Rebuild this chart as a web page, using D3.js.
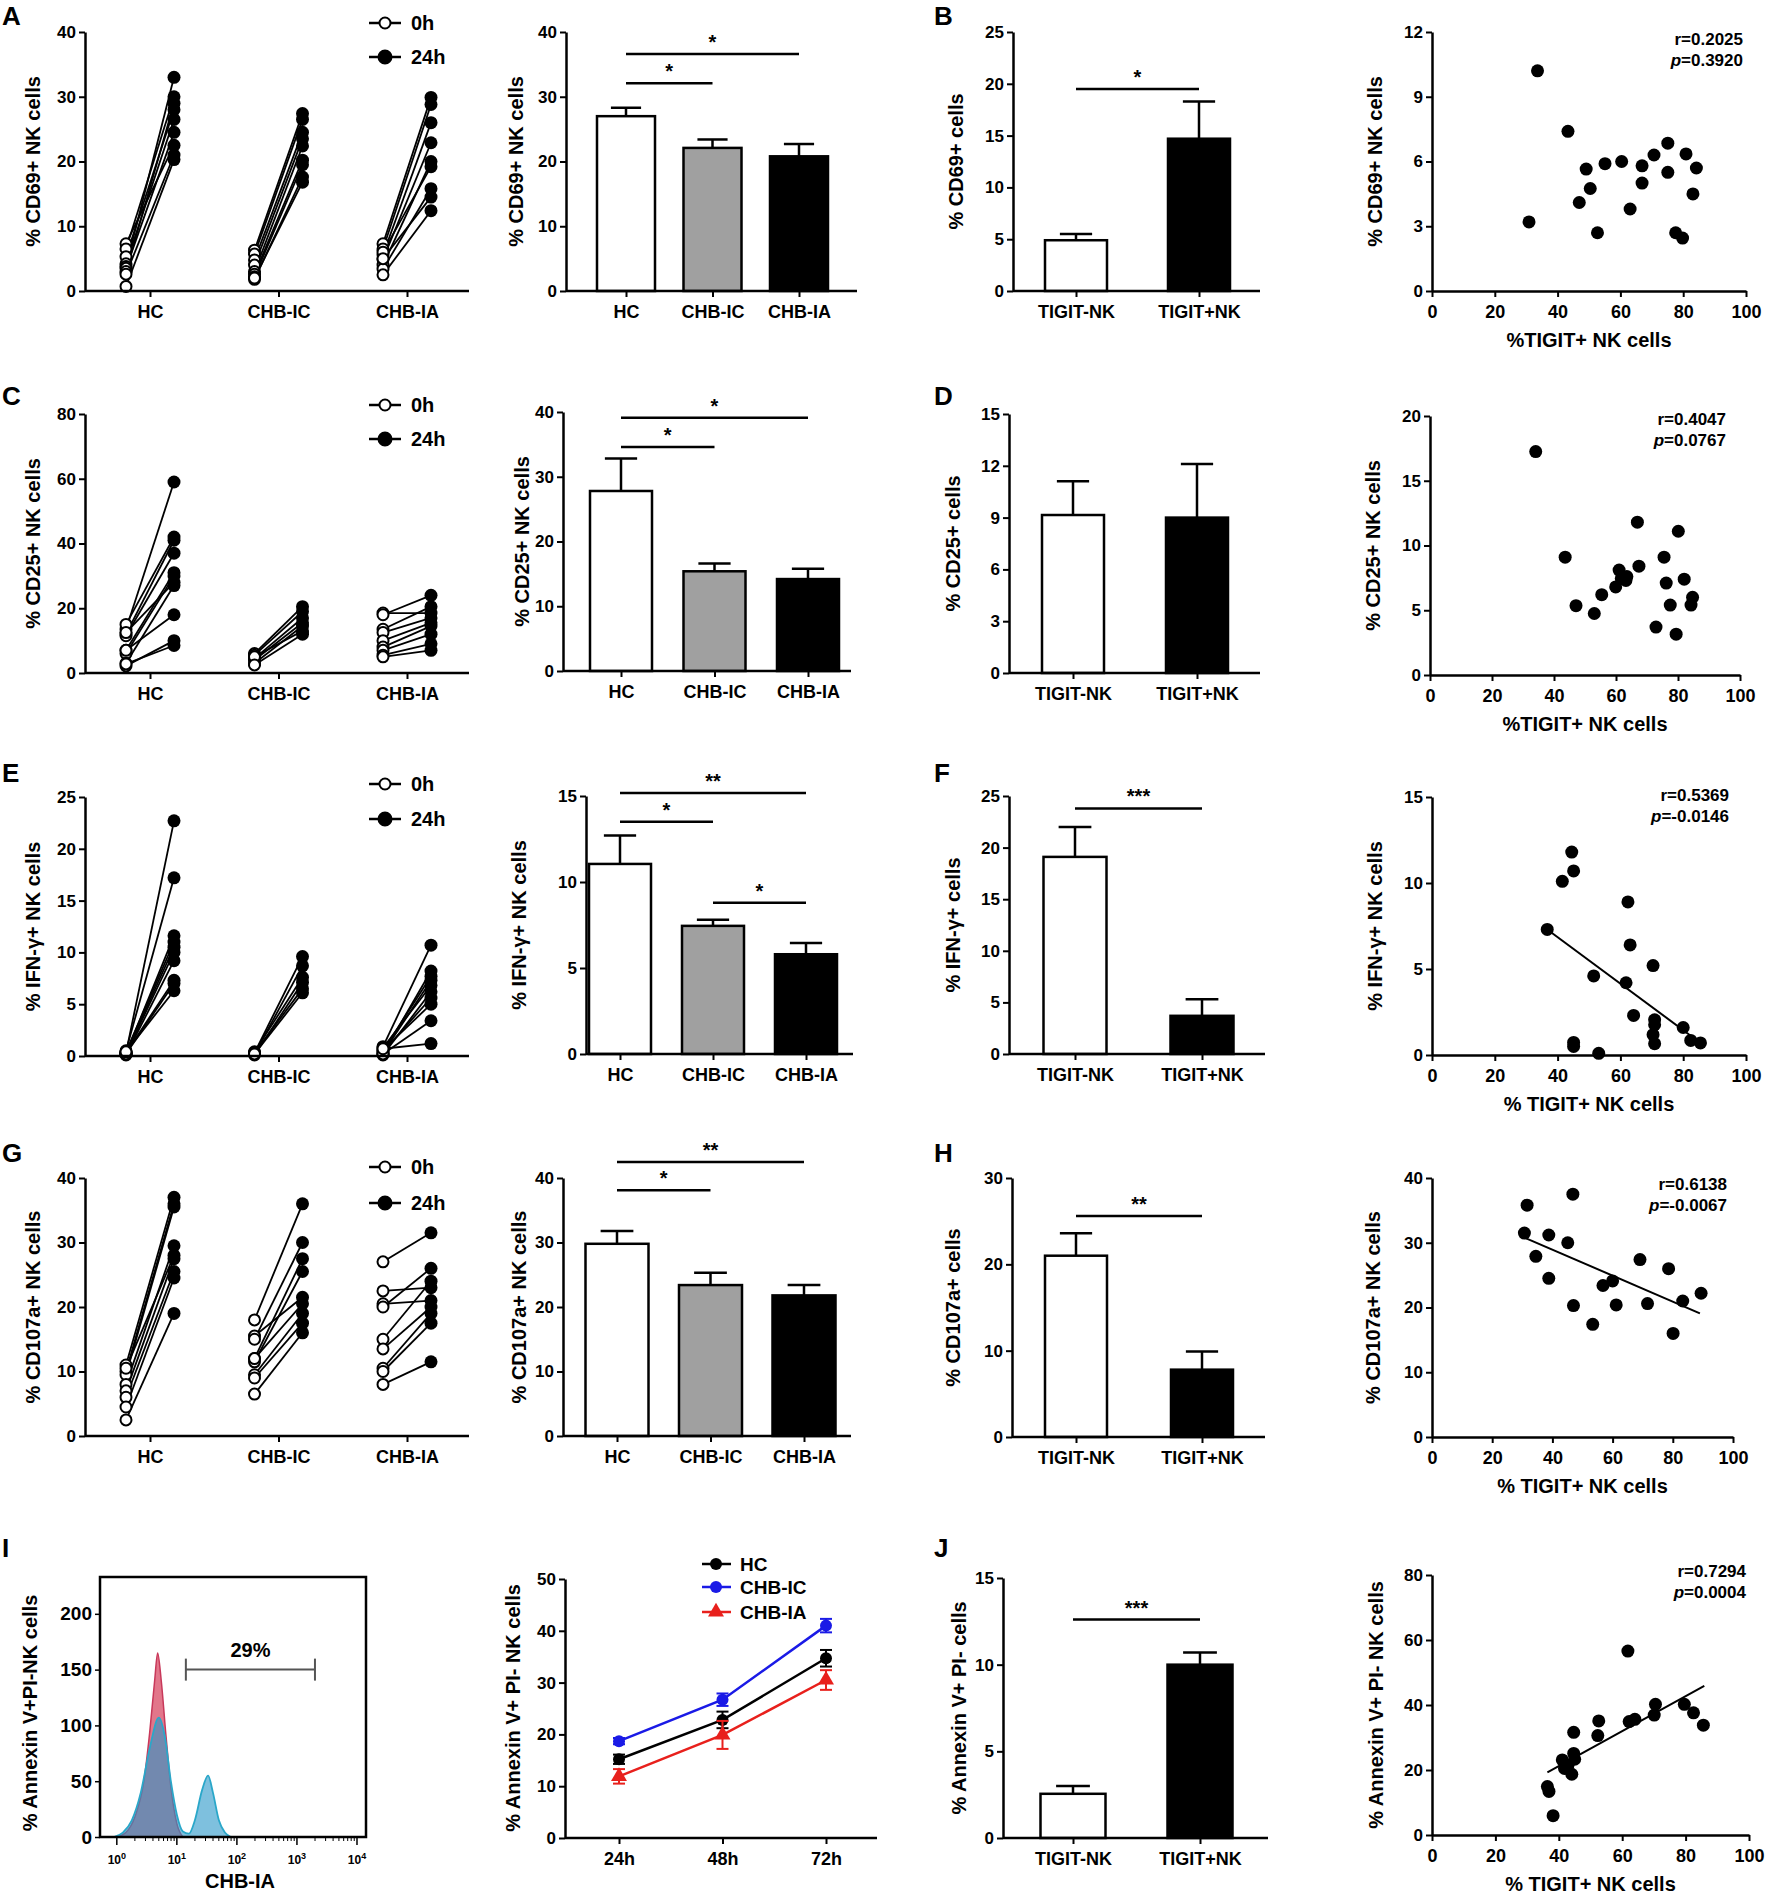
<!DOCTYPE html>
<html>
<head>
<meta charset="utf-8">
<script src="https://cdn.jsdelivr.net/npm/d3@7/dist/d3.min.js"></script>
<style>
  body { margin: 0; background: #fff; }
  svg text { font-family: "Liberation Sans", Arial, sans-serif; font-weight: bold; fill: #000; }
</style>
</head>
<body>
<svg id="fig" width="1772" height="1902"></svg>
<script>
// ---- categories / labels
var groups = ['HC', 'CHB-IC', 'CHB-IA'];
var tigit = ['TIGIT-NK', 'TIGIT+NK'];
var times = ['24h', '48h', '72h'];

// ---- paired 0h / 24h values per donor
var cd69HC = [[7.3,22.5],[6.5,30],[5.3,28],[4.2,26.5],[3.8,33],[3.5,24.5],[3.0,29],[2.6,21],[0.7,20.3]];
var cd69IC = [[6.3,27.4],[5.7,26.5],[4.8,24.5],[4.0,23.5],[3.0,22.4],[2.6,20.2],[2.2,19.5],[1.8,17.6],[2.0,16.8]];
var cd69IA = [[7.3,29.9],[6.5,28.8],[5.6,26],[4.9,22.9],[4.0,20],[6.0,19.2],[3.4,15.8],[5.0,14.5],[2.5,12.4]];

var cd25HC = [[13.5,59],[15,42],[12,41],[11.5,37],[7,31],[6,30],[12.5,28],[3,27],[7,18],[2.2,10],[2.8,8.5]];
var cd25IC = [[6,20.5],[5.5,19],[4.5,17],[4,15.5],[3,14.5],[5,13],[2.5,12]];
var cd25IA = [[18.5,18.5],[18,24],[13.5,20.5],[12.5,17],[10,15.5],[8,14.5],[7,12],[5.5,9],[5,7]];

var ifnHC = [[0.3,22.7],[0.5,17.2],[0.2,11.6],[0.4,11],[0.3,10.5],[0.2,10],[0.1,9.2],[0.3,7.3],[0.2,7],[0.4,6.3]];
var ifnIC = [[0.3,9.6],[0.2,8.7],[0.4,7.6],[0.1,7.1],[0.3,6.5],[0.2,6.1]];
var ifnIA = [[0.9,10.7],[0.2,8.2],[0.5,7.7],[0.3,7.3],[0.8,6.8],[0.1,6.2],[0.4,5.6],[0.6,5.0],[0.2,3.4],[0.7,1.2]];

var cd107HC = [[11,37],[10,36],[9.5,35.5],[8,29.5],[7,27.5],[6,25.5],[4.5,24.5],[2.5,19],[10.5,28]];
var cd107IC = [[18,36],[15.5,21.5],[15,30],[12,27.5],[11.5,25.5],[12,20.5],[9.5,19],[9,17.5],[6.5,16]];
var cd107IA = [[27,31.5],[22.5,23],[20.5,21],[20,26],[15,24],[13.5,20],[10.5,19],[10,17.5],[8,11.5]];

// ---- group bars: mean and SEM
var cd69Mean = [27.0, 22.1, 20.8],  cd69Sem = [1.3, 1.3, 1.9];
var cd25Mean = [27.8, 15.4, 14.2],  cd25Sem = [5.0, 1.2, 1.6];
var ifnMean  = [11.05, 7.45, 5.8],  ifnSem  = [1.65, 0.35, 0.65];
var cd107Mean = [29.8, 23.4, 21.8], cd107Sem = [2.0, 1.9, 1.6];

// significance brackets: [from, to, stars, level]
var cd69Sig = [[0, 2, '*', 36.6], [0, 1, '*', 32.1]];
var cd25Sig = [[0, 2, '*', 39.1], [0, 1, '*', 34.6]];
var ifnSig  = [[0, 2, '**', 15.17], [0, 1, '*', 13.5], [1, 2, '*', 8.8]];
var cd107Sig = [[0, 2, '**', 42.5], [0, 1, '*', 38.1]];

// ---- TIGIT- vs TIGIT+ bars
var tCd69Mean = [4.9, 14.7],  tCd69Sem = [0.6, 3.6],  tCd69Sig = [[0, 1, '*', 19.5]];
var tCd25Mean = [9.15, 9.0],  tCd25Sem = [1.95, 3.1], tCd25Sig = [];
var tIfnMean  = [19.1, 3.7],  tIfnSem  = [2.9, 1.6],  tIfnSig  = [[0, 1, '***', 23.8]];
var tCd107Mean = [21.0, 7.8], tCd107Sem = [2.6, 2.1], tCd107Sig = [[0, 1, '**', 25.6]];
var tAnnMean  = [2.55, 10.0], tAnnSem  = [0.45, 0.7], tAnnSig  = [[0, 1, '***', 12.6]];

// ---- correlations (% TIGIT+ NK, % marker+)
var corCd69 = [[33.6,10.2],[43.3,7.4],[30.9,3.2],[46.9,4.1],[49.1,5.65],[50.4,4.75],[52.7,2.7],[55.1,5.9],[60.4,6.0],[63.1,3.8],
  [66.9,5.8],[66.9,5.0],[70.7,6.3],[75.1,6.85],[75.1,5.5],[77.6,2.7],[79.8,2.45],[80.9,6.35],[84.2,5.7],[83.1,4.5]];
var corCd25 = [[34.1,17.25],[43.6,9.1],[47.1,5.35],[53.0,4.75],[55.4,6.2],[59.9,6.8],[61.0,8.1],[61.7,7.45],[63.2,7.3],[63.5,7.6],
  [66.9,11.8],[67.4,8.4],[72.9,3.7],[75.5,9.1],[76.2,7.1],[77.5,5.4],[79.4,3.15],[80.1,11.1],[82.0,7.4],[84.2,5.4],[84.7,6.0]];
var corIfn = [[36.7,7.3],[41.5,10.1],[44.5,11.8],[45.1,10.7],[45.1,0.73],[45.1,0.5],[51.5,4.6],[53.1,0.1],[62.4,8.9],[63.1,6.4],
  [61.8,4.2],[64.2,2.3],[70.4,5.2],[70.9,2.05],[70.9,1.76],[70.4,1.18],[70.9,0.66],[80.0,1.6],[82.4,0.85],[85.5,0.7]];
var corCd107 = [[31.6,35.8],[30.7,31.5],[34.5,27.9],[38.8,31.2],[38.8,24.5],[46.8,37.5],[45.1,30.0],[47.0,20.3],[53.4,17.4],
  [56.8,23.4],[60.0,24.1],[61.2,20.4],[69.1,27.4],[71.6,20.6],[78.6,26.0],[80.1,16.0],[83.3,21.0],[89.4,22.2]];
var corAnn = [[36.4,14.9],[36.9,13.4],[38.2,5.95],[41.1,23.1],[41.8,20.5],[42.9,21.5],[44.1,18.7],[44.7,31.6],[44.7,25.1],[45.0,23.3],
  [52.3,30.6],[52.6,35.1],[61.8,56.6],[62.2,34.9],[64.0,35.6],[70.1,36.9],[70.5,40.2],[79.6,40.2],[82.5,37.6],[85.6,33.8]];

// regression line end points as drawn
var fitIfn = [[36.7,7.3],[85.5,0.7]];
var fitCd107 = [[30.7,30.8],[89.0,19.1]];
var fitAnn = [[36.4,19.3],[85.9,45.9]];

var statCd69 = ['r=0.2025', '=0.3920'];
var statCd25 = ['r=0.4047', '=0.0767'];
var statIfn = ['r=0.5369', '=-0.0146'];
var statCd107 = ['r=0.6138', '=-0.0067'];
var statAnn = ['r=0.7294', '=0.0004'];

// ---- apoptosis time course
var hcTime = [15.2, 22.8, 34.7], hcErr = [0.9, 1.6, 1.6];
var icTime = [18.7, 26.7, 41.0], icErr = [0.6, 1.2, 1.3];
var iaTime = [11.9, 19.9, 30.5], iaErr = [1.4, 2.7, 1.9];

// ---- flow histogram (log10 intensity, count)
var histRed = [[0.0,0],[0.15,4],[0.3,18],[0.45,50],[0.55,95],[0.63,140],[0.68,165],[0.74,140],[0.82,90],[0.9,45],[1.0,12],[1.1,0]];
var histBlue = [[-0.05,0],[0.1,4],[0.25,15],[0.4,40],[0.55,80],[0.7,107],[0.8,90],[0.9,50],[1.0,20],[1.1,5],[1.2,3],
  [1.3,15],[1.42,42],[1.52,55],[1.6,40],[1.7,15],[1.8,4],[1.9,0]];
var histGate = [1.15, 3.3, 150];
var histTicks = [0, 50, 100, 150, 200];

var svg = d3.select('#fig');

function styleAxis(a, fs) {
  a.select('.domain').attr('stroke-width', 2.5);
  a.selectAll('.tick line').attr('stroke-width', 2);
  a.selectAll('.tick text').attr('font-size', fs || 17);
}

function yAxis(g, y, x, ticks) {
  var a = g.append('g').attr('transform', 'translate(' + x + ',0)')
    .call(d3.axisLeft(y).tickValues(ticks).tickSize(6).tickSizeOuter(0).tickPadding(3));
  styleAxis(a);
  return a;
}

function yLabel(g, txt, x, y, fs) {
  g.append('text').attr('transform', 'translate(' + x + ',' + y + ') rotate(-90)')
    .attr('text-anchor', 'middle').attr('font-size', fs || 20).text(txt);
}

function catAxis(g, xs, c) {
  var a = g.append('g').attr('transform', 'translate(0,' + c.zero + ')')
    .call(d3.axisBottom(xs).tickSize(6).tickPadding(8));
  a.select('.domain').remove();
  a.selectAll('.tick line').attr('stroke-width', 2);
  a.selectAll('.tick text').attr('font-size', 18);
  g.append('line').attr('x1', c.axisX).attr('x2', c.xEnd).attr('y1', c.zero).attr('y2', c.zero)
    .attr('stroke', '#000').attr('stroke-width', 2.5);
}

function letter(t, x, y) {
  svg.append('text').attr('x', x).attr('y', y).attr('font-size', 26).text(t);
}

// paired dot plot
function pairedPanel(c) {
  var g = svg.append('g');
  var y = d3.scaleLinear().domain([0, c.max]).range([c.zero, c.top]);
  var xs = d3.scalePoint().domain(groups).range([150, 407]);
  var off = 24;
  c.axisX = 85; c.xEnd = 469;
  c.data.forEach(function (set, i) {
    var cx = xs(groups[i]);
    g.selectAll(null).data(set).enter().append('line')
      .attr('x1', cx - off).attr('x2', cx + off)
      .attr('y1', function (d) { return y(d[0]); }).attr('y2', function (d) { return y(d[1]); })
      .attr('stroke', '#000').attr('stroke-width', 1.8);
    g.selectAll(null).data(set).enter().append('circle')
      .attr('cx', cx + off).attr('cy', function (d) { return y(d[1]); }).attr('r', 6.5).attr('fill', '#000');
    g.selectAll(null).data(set).enter().append('circle')
      .attr('cx', cx - off).attr('cy', function (d) { return y(d[0]); }).attr('r', 5.5)
      .attr('fill', '#fff').attr('stroke', '#000').attr('stroke-width', 2);
  });
  yAxis(g, y, c.axisX, c.ticks);
  catAxis(g, xs, c);
  yLabel(g, c.label, 40, (c.top + c.zero) / 2);
  // legend
  [['0h', false], ['24h', true]].forEach(function (l, i) {
    var ly = c.legendY[i];
    g.append('line').attr('x1', 369).attr('x2', 401).attr('y1', ly).attr('y2', ly).attr('stroke', '#000').attr('stroke-width', 2.5);
    g.append('circle').attr('cx', 385).attr('cy', ly).attr('r', l[1] ? 6.5 : 5.5)
      .attr('fill', l[1] ? '#000' : '#fff').attr('stroke', '#000').attr('stroke-width', 2);
    g.append('text').attr('x', 411).attr('y', ly + 7).attr('font-size', 20).text(l[0]);
  });
}

// bar chart with upward SEM and brackets
function barPanel(c) {
  var g = svg.append('g');
  var y = d3.scaleLinear().domain([0, c.max]).range([c.zero, c.top]);
  var xs = d3.scalePoint().domain(c.cats).range(c.centers);
  var w = c.width;
  g.selectAll(null).data(c.mean).enter().append('rect')
    .attr('x', function (d, i) { return xs(c.cats[i]) - w / 2; })
    .attr('y', function (d) { return y(d); })
    .attr('width', w).attr('height', function (d) { return c.zero - y(d); })
    .attr('fill', function (d, i) { return c.fills[i]; })
    .attr('stroke', '#000').attr('stroke-width', 2.5);
  c.mean.forEach(function (m, i) {
    var cx = xs(c.cats[i]), top = y(m + c.sem[i]);
    g.append('line').attr('x1', cx).attr('x2', cx).attr('y1', y(m)).attr('y2', top).attr('stroke', '#000').attr('stroke-width', 2.5);
    g.append('line').attr('x1', cx - w * 0.26).attr('x2', cx + w * 0.26).attr('y1', top).attr('y2', top).attr('stroke', '#000').attr('stroke-width', 2.5);
  });
  yAxis(g, y, c.axisX, c.ticks);
  catAxis(g, xs, c);
  yLabel(g, c.label, c.labelX, (c.top + c.zero) / 2);
  c.sig.forEach(function (s) {
    var x1 = xs(c.cats[s[0]]), x2 = xs(c.cats[s[1]]), ly = y(s[3]);
    g.append('line').attr('x1', x1).attr('x2', x2).attr('y1', ly).attr('y2', ly).attr('stroke', '#000').attr('stroke-width', 2.5);
    g.append('text').attr('x', (x1 + x2) / 2).attr('y', ly - 5).attr('text-anchor', 'middle')
      .attr('font-size', 20).attr('font-weight', 'normal').text(s[2]);
  });
}

// correlation scatter
function scatterPanel(c) {
  var g = svg.append('g');
  var x = d3.scaleLinear().domain([0, 100]).range([c.axisX, c.xEnd]);
  var y = d3.scaleLinear().domain([0, c.max]).range([c.zero, c.top]);
  if (c.fit) {
    g.append('path').datum(c.fit)
      .attr('d', d3.line().x(function (d) { return x(d[0]); }).y(function (d) { return y(d[1]); }))
      .attr('stroke', '#000').attr('stroke-width', 2).attr('fill', 'none');
  }
  g.selectAll(null).data(c.data).enter().append('circle')
    .attr('cx', function (d) { return x(d[0]); }).attr('cy', function (d) { return y(d[1]); })
    .attr('r', 6.5).attr('fill', '#000');
  yAxis(g, y, c.axisX, c.ticks);
  var xa = g.append('g').attr('transform', 'translate(0,' + c.zero + ')')
    .call(d3.axisBottom(x).tickValues([0, 20, 40, 60, 80, 100]).tickSize(6).tickSizeOuter(0).tickPadding(8));
  styleAxis(xa, 18);
  yLabel(g, c.label, c.labelX, (c.top + c.zero) / 2);
  g.append('text').attr('x', (c.axisX + c.xEnd) / 2).attr('y', c.zero + 56).attr('text-anchor', 'middle')
    .attr('font-size', 20).text(c.xLabel);
  g.append('text').attr('x', c.statX).attr('y', c.statY).attr('text-anchor', 'end').attr('font-size', 17).text(c.stat[0]);
  var p = g.append('text').attr('x', c.statX).attr('y', c.statY + 21).attr('text-anchor', 'end').attr('font-size', 17);
  p.append('tspan').attr('font-style', 'italic').text('p');
  p.append('tspan').text(c.stat[1]);
}

// ---------- row A / B
letter('A', 2, 25);
pairedPanel({ top: 32, zero: 291, max: 40, ticks: [0, 10, 20, 30, 40], label: '% CD69+ NK cells',
  data: [cd69HC, cd69IC, cd69IA], legendY: [23, 57] });
barPanel({ cats: groups, mean: cd69Mean, sem: cd69Sem, sig: cd69Sig, fills: ['#fff', '#a0a0a0', '#000'],
  axisX: 566, xEnd: 857, centers: [626, 799], width: 58, top: 32, zero: 291, max: 40,
  ticks: [0, 10, 20, 30, 40], label: '% CD69+ NK cells', labelX: 523 });
letter('B', 934, 25);
barPanel({ cats: tigit, mean: tCd69Mean, sem: tCd69Sem, sig: tCd69Sig, fills: ['#fff', '#000'],
  axisX: 1013, xEnd: 1260, centers: [1076, 1199], width: 62, top: 32, zero: 291, max: 25,
  ticks: [0, 5, 10, 15, 20, 25], label: '% CD69+ cells', labelX: 963 });
scatterPanel({ data: corCd69, axisX: 1432, xEnd: 1746, top: 32, zero: 291, max: 12, ticks: [0, 3, 6, 9, 12],
  label: '% CD69+ NK cells', labelX: 1382, xLabel: '%TIGIT+ NK cells', stat: statCd69, statX: 1743, statY: 45 });

// ---------- row C / D
letter('C', 2, 405);
pairedPanel({ top: 414, zero: 673, max: 80, ticks: [0, 20, 40, 60, 80], label: '% CD25+ NK cells',
  data: [cd25HC, cd25IC, cd25IA], legendY: [405, 439] });
barPanel({ cats: groups, mean: cd25Mean, sem: cd25Sem, sig: cd25Sig, fills: ['#fff', '#a0a0a0', '#000'],
  axisX: 563, xEnd: 851, centers: [621, 808], width: 62, top: 412, zero: 671, max: 40,
  ticks: [0, 10, 20, 30, 40], label: '% CD25+ NK cells', labelX: 529 });
letter('D', 934, 405);
barPanel({ cats: tigit, mean: tCd25Mean, sem: tCd25Sem, sig: tCd25Sig, fills: ['#fff', '#000'],
  axisX: 1009, xEnd: 1260, centers: [1073, 1197], width: 62, top: 414, zero: 673, max: 15,
  ticks: [0, 3, 6, 9, 12, 15], label: '% CD25+ cells', labelX: 960 });
scatterPanel({ data: corCd25, axisX: 1430, xEnd: 1740, top: 416, zero: 675, max: 20, ticks: [0, 5, 10, 15, 20],
  label: '% CD25+ NK cells', labelX: 1380, xLabel: '%TIGIT+ NK cells', stat: statCd25, statX: 1726, statY: 425 });

// ---------- row E / F
letter('E', 2, 782);
pairedPanel({ top: 797, zero: 1056, max: 25, ticks: [0, 5, 10, 15, 20, 25], label: '% IFN-γ+ NK cells',
  data: [ifnHC, ifnIC, ifnIA], legendY: [784, 819] });
barPanel({ cats: groups, mean: ifnMean, sem: ifnSem, sig: ifnSig, fills: ['#fff', '#a0a0a0', '#000'],
  axisX: 586, xEnd: 853, centers: [620, 806], width: 62, top: 796, zero: 1054, max: 15,
  ticks: [0, 5, 10, 15], label: '% IFN-γ+ NK cells', labelX: 526 });
letter('F', 934, 782);
barPanel({ cats: tigit, mean: tIfnMean, sem: tIfnSem, sig: tIfnSig, fills: ['#fff', '#000'],
  axisX: 1009, xEnd: 1265, centers: [1075, 1202], width: 63, top: 796, zero: 1054, max: 25,
  ticks: [0, 5, 10, 15, 20, 25], label: '% IFN-γ+ cells', labelX: 960 });
scatterPanel({ data: corIfn, fit: fitIfn, axisX: 1432, xEnd: 1746, top: 797, zero: 1055, max: 15, ticks: [0, 5, 10, 15],
  label: '% IFN-γ+ NK cells', labelX: 1382, xLabel: '% TIGIT+ NK cells', stat: statIfn, statX: 1729, statY: 801 });

// ---------- row G / H
letter('G', 2, 1162);
pairedPanel({ top: 1178, zero: 1436, max: 40, ticks: [0, 10, 20, 30, 40], label: '% CD107a+ NK cells',
  data: [cd107HC, cd107IC, cd107IA], legendY: [1167, 1203] });
barPanel({ cats: groups, mean: cd107Mean, sem: cd107Sem, sig: cd107Sig, fills: ['#fff', '#a0a0a0', '#000'],
  axisX: 563, xEnd: 851, centers: [617, 804], width: 63, top: 1178, zero: 1436, max: 40,
  ticks: [0, 10, 20, 30, 40], label: '% CD107a+ NK cells', labelX: 526 });
letter('H', 934, 1162);
barPanel({ cats: tigit, mean: tCd107Mean, sem: tCd107Sem, sig: tCd107Sig, fills: ['#fff', '#000'],
  axisX: 1012, xEnd: 1265, centers: [1076, 1202], width: 62, top: 1178, zero: 1437, max: 30,
  ticks: [0, 10, 20, 30], label: '% CD107a+ cells', labelX: 960 });
scatterPanel({ data: corCd107, fit: fitCd107, axisX: 1432, xEnd: 1733, top: 1178, zero: 1437, max: 40, ticks: [0, 10, 20, 30, 40],
  label: '% CD107a+ NK cells', labelX: 1380, xLabel: '% TIGIT+ NK cells', stat: statCd107, statX: 1727, statY: 1190 });

// ---------- row I / J
letter('I', 2, 1557);

// flow histogram
(function () {
  var g = svg.append('g');
  var x = d3.scaleLinear().domain([-0.28, 4.15]).range([100, 366]);
  var y = d3.scaleLinear().domain([0, 233]).range([1837, 1577]);
  var area = d3.area().curve(d3.curveMonotoneX)
    .x(function (d) { return x(d[0]); }).y0(y(0)).y1(function (d) { return y(d[1]); });
  g.append('path').datum(histRed).attr('d', area).attr('fill', 'rgb(226,118,138)').attr('stroke', '#c8385a').attr('stroke-width', 1.5);
  g.append('path').datum(histBlue).attr('d', area).attr('fill', 'rgba(40,150,200,0.6)').attr('stroke', '#2aa7c9').attr('stroke-width', 1.8);
  g.append('rect').attr('x', 100).attr('y', 1577).attr('width', 266).attr('height', 260)
    .attr('fill', 'none').attr('stroke', '#000').attr('stroke-width', 2.5);
  var ya = g.append('g').attr('transform', 'translate(100,0)')
    .call(d3.axisLeft(y).tickValues(histTicks).tickSize(5).tickSizeOuter(0).tickPadding(3));
  ya.select('.domain').remove();
  ya.selectAll('.tick line').attr('stroke-width', 1.5);
  ya.selectAll('.tick text').attr('font-size', 19).attr('font-weight', 'normal').attr('font-family', 'Lato, sans-serif');
  // log ticks
  var minor = [];
  d3.range(0, 4).forEach(function (e) { d3.range(2, 10).forEach(function (k) { minor.push(e + Math.log10(k)); }); });
  g.selectAll(null).data(minor).enter().append('line')
    .attr('x1', function (d) { return x(d); }).attr('x2', function (d) { return x(d); })
    .attr('y1', 1837).attr('y2', 1841).attr('stroke', '#000').attr('stroke-width', 1);
  var dec = d3.range(0, 5);
  g.selectAll(null).data(dec).enter().append('line')
    .attr('x1', function (d) { return x(d); }).attr('x2', function (d) { return x(d); })
    .attr('y1', 1837).attr('y2', 1845).attr('stroke', '#000').attr('stroke-width', 1.5);
  var lab = g.selectAll(null).data(dec).enter().append('text')
    .attr('x', function (d) { return x(d); }).attr('y', 1864).attr('text-anchor', 'middle')
    .attr('font-family', '"Liberation Serif", serif').attr('font-weight', 'normal').attr('font-size', 12);
  lab.append('tspan').text('10');
  lab.append('tspan').attr('dy', -5).attr('font-size', 9).text(function (d) { return d; });
  // gate
  var gy = y(histGate[2]);
  g.append('line').attr('x1', x(histGate[0])).attr('x2', x(histGate[1])).attr('y1', gy).attr('y2', gy).attr('stroke', '#555').attr('stroke-width', 2);
  [histGate[0], histGate[1]].forEach(function (v) {
    g.append('line').attr('x1', x(v)).attr('x2', x(v)).attr('y1', gy - 11).attr('y2', gy + 11).attr('stroke', '#555').attr('stroke-width', 2);
  });
  g.append('text').attr('x', (x(histGate[0]) + x(histGate[1])) / 2).attr('y', 1657).attr('text-anchor', 'middle')
    .attr('font-family', 'Lato, sans-serif').attr('font-weight', 'normal').attr('font-size', 20).text('29%');
  g.append('text').attr('transform', 'translate(37,1713) rotate(-90)').attr('text-anchor', 'middle')
    .attr('font-family', 'Lato, sans-serif').attr('font-weight', 'normal').attr('font-size', 20).text('% Annexin V+PI-NK cells');
  g.append('text').attr('x', 240).attr('y', 1888).attr('text-anchor', 'middle')
    .attr('font-family', 'Lato, sans-serif').attr('font-weight', 'normal').attr('font-size', 20).text('CHB-IA');
})();

// time course
(function () {
  var g = svg.append('g');
  var x = d3.scalePoint().domain(times).range([619, 826]);
  var y = d3.scaleLinear().domain([0, 50]).range([1838, 1579]);
  var series = [
    { name: 'HC', v: hcTime, e: hcErr, col: '#000', tri: false },
    { name: 'CHB-IC', v: icTime, e: icErr, col: '#1a1ae6', tri: false },
    { name: 'CHB-IA', v: iaTime, e: iaErr, col: '#e8201c', tri: true }
  ];
  var line = d3.line().x(function (d, i) { return x(times[i]); }).y(function (d) { return y(d); });
  var tri = d3.symbol().type(d3.symbolTriangle).size(110);
  series.forEach(function (s) {
    g.append('path').datum(s.v).attr('d', line).attr('fill', 'none').attr('stroke', s.col).attr('stroke-width', 2.5);
    s.v.forEach(function (v, i) {
      var cx = x(times[i]);
      g.append('line').attr('x1', cx).attr('x2', cx).attr('y1', y(v - s.e[i])).attr('y2', y(v + s.e[i])).attr('stroke', s.col).attr('stroke-width', 2);
      [v - s.e[i], v + s.e[i]].forEach(function (t) {
        g.append('line').attr('x1', cx - 6).attr('x2', cx + 6).attr('y1', y(t)).attr('y2', y(t)).attr('stroke', s.col).attr('stroke-width', 2);
      });
      if (s.tri) g.append('path').attr('d', tri).attr('transform', 'translate(' + cx + ',' + y(v) + ')').attr('fill', s.col);
      else g.append('circle').attr('cx', cx).attr('cy', y(v)).attr('r', 6).attr('fill', s.col);
    });
  });
  yAxis(g, y, 565, [0, 10, 20, 30, 40, 50]);
  catAxis(g, x, { zero: 1838, axisX: 565, xEnd: 877 });
  yLabel(g, '% Annexin V+ PI- NK cells', 520, 1708);
  var ly = [1564, 1587, 1612];
  series.forEach(function (s, i) {
    g.append('line').attr('x1', 702).attr('x2', 731).attr('y1', ly[i]).attr('y2', ly[i]).attr('stroke', s.col).attr('stroke-width', 2.5);
    if (s.tri) g.append('path').attr('d', tri).attr('transform', 'translate(716,' + ly[i] + ')').attr('fill', s.col);
    else g.append('circle').attr('cx', 716).attr('cy', ly[i]).attr('r', 6).attr('fill', s.col);
    g.append('text').attr('x', 740).attr('y', ly[i] + 7).attr('font-size', 19).attr('font-weight', 'normal').text(s.name);
  });
})();

letter('J', 934, 1557);
barPanel({ cats: tigit, mean: tAnnMean, sem: tAnnSem, sig: tAnnSig, fills: ['#fff', '#000'],
  axisX: 1003, xEnd: 1268, centers: [1073, 1200], width: 65, top: 1578, zero: 1838, max: 15,
  ticks: [0, 5, 10, 15], label: '% Annexin V+ PI- cells', labelX: 966 });
scatterPanel({ data: corAnn, fit: fitAnn, axisX: 1432, xEnd: 1749, top: 1575, zero: 1835, max: 80, ticks: [0, 20, 40, 60, 80],
  label: '% Annexin V+ PI- NK cells', labelX: 1383, xLabel: '% TIGIT+ NK cells', stat: statAnn, statX: 1746, statY: 1577 });
</script>
</body>
</html>
